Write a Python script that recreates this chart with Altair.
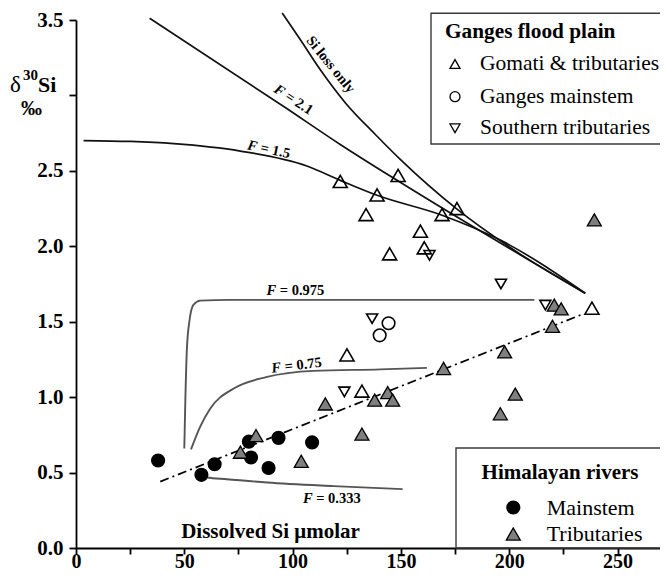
import altair as alt
import pandas as pd

# ---------------- data ----------------
# Ganges flood plain
gomati_x = [122.0, 148.7, 139.0, 133.9, 169.0, 175.9, 159.0, 160.8, 144.8, 125.1, 132.0, 238.2]
gomati_y = [2.43, 2.47, 2.34, 2.21, 2.21, 2.25, 2.10, 1.99, 1.95, 1.28, 1.04, 1.59]
gmain_x = [144.3, 140.2]
gmain_y = [1.49, 1.41]
south_x = [163.2, 196.2, 216.7, 136.7, 123.9]
south_y = [1.94, 1.75, 1.61, 1.52, 1.035]
# Himalayan rivers
hmain_x = [37.9, 57.9, 64.0, 80.8, 88.9, 79.8, 93.5, 109.0]
hmain_y = [0.58, 0.485, 0.555, 0.60, 0.53, 0.705, 0.73, 0.70]
htrib_x = [75.9, 83.1, 104.0, 115.1, 132.0, 137.9, 143.9, 146.2, 169.7, 197.9,
           202.8, 195.9, 220.0, 220.8, 224.0, 239.3]
htrib_y = [0.635, 0.745, 0.575, 0.955, 0.755, 0.98, 1.03, 0.98, 1.19, 1.30,
           1.02, 0.89, 1.47, 1.61, 1.585, 2.175]

g_title = "Ganges flood plain"
g_names = ["Gomati & tributaries", "Ganges mainstem", "Southern tributaries"]
h_title = "Himalayan rivers"
h_names = ["Mainstem", "Tributaries"]

siloss_x = [95.2, 103.6, 112.8, 124.3, 138.2, 149.7, 175.9, 205.1, 235.1]
siloss_y = [3.547, 3.369, 3.170, 2.952, 2.741, 2.576, 2.246, 1.948, 1.689]
f21_x = [34.0, 96.6, 122.0, 149.7, 235.1]
f21_y = [3.512, 2.92, 2.675, 2.424, 1.689]
f15_x = [3.5, 25.1, 45.1, 75.9, 106.6, 122.0, 139.0, 169.0, 195.9, 235.1]
f15_y = [2.701, 2.695, 2.680, 2.631, 2.532, 2.437, 2.338, 2.206, 2.041, 1.689]
f975_x = [50.0, 50.5, 51.2, 52.4, 54.2, 57.4, 71.2, 211.6]
f975_y = [0.660, 0.991, 1.321, 1.508, 1.612, 1.640, 1.645, 1.645]
f075_x = [53.1, 57.4, 62.0, 72.8, 88.2, 109.7, 140.5, 162.0]
f075_y = [0.654, 0.806, 0.925, 1.057, 1.134, 1.174, 1.184, 1.194]
f0333_x = [58.2, 60.5, 69.7, 88.2, 118.9, 150.8]
f0333_y = [0.484, 0.467, 0.456, 0.434, 0.410, 0.390]
trend_x = [38.9, 234.3]
trend_y = [0.44, 1.552]

# curve labels
lab_rest = ["= 2.1", "= 1.5", "= 0.975", "= 0.75", "= 0.333"]
lab_x = [96.6, 84.6, 96.8, 97.4, 113.6]
lab_y = [3.005, 2.653, 1.706, 1.20, 0.324]
lab_angle = [33, 12, 0, 353, 0]
lab_shift = [-12.0, -12.0, -19.2, -15.6, -19.2]

# ---------------- layout ----------------
PXU = 2.166
W = 584
H = 528
SERIF = "Liberation Serif"

xs = alt.Scale(domain=[0, W / PXU], nice=False, zero=False)
ys = alt.Scale(domain=[0, 3.5], nice=False)

x_axis = alt.Axis(
    values=list(range(0, 275, 25)),
    labelExpr="datum.value % 50 == 0 ? datum.label : ''",
    format="d",
    title="Dissolved Si \u03bcmolar",
    titleX=194, titleY=-11, titleAlign="center", titleBaseline="alphabetic",
    titleAnchor="start",
    titleFont=SERIF, titleFontSize=21, titleFontWeight="bold", titleColor="black",
    labelFont=SERIF, labelFontSize=20, labelFontWeight="bold", labelColor="black",
    labelBaseline="alphabetic", labelPadding=13.5,
    tickSize=6, tickWidth=1.8, tickColor="black",
    domainColor="black", domainWidth=1.8, grid=False, labelFlush=False,
)
y_axis = alt.Axis(
    values=[i * 0.25 for i in range(15)],
    labelExpr="(round(datum.value*4) % 2 == 0 && abs(datum.value-3) > 0.01) ? format(datum.value, '.1f') : ''",
    title=None,
    labelFont=SERIF, labelFontSize=21, labelFontWeight="bold", labelColor="black",
    labelPadding=6, tickSize=7, tickWidth=1.8, tickColor="black",
    domainColor="black", domainWidth=1.8, grid=False, labelFlush=False,
)

pts_g = pd.DataFrame({
    "x": gomati_x + gmain_x + south_x,
    "y": gomati_y + gmain_y + south_y,
    "Ganges": [g_names[0]] * len(gomati_x) + [g_names[1]] * len(gmain_x) + [g_names[2]] * len(south_x),
})
pts_h = pd.DataFrame({
    "x": hmain_x + htrib_x,
    "y": hmain_y + htrib_y,
    "Himalaya": [h_names[0]] * len(hmain_x) + [h_names[1]] * len(htrib_x),
})


def curve_df(name, xv, yv):
    return pd.DataFrame({"x": xv, "y": yv, "curve": name, "i": list(range(len(xv)))})


black_curves = pd.concat([
    curve_df("siloss", siloss_x, siloss_y),
    curve_df("f21", f21_x, f21_y),
    curve_df("f15", f15_x, f15_y),
])
gray_curves = pd.concat([
    curve_df("f975", f975_x, f975_y),
    curve_df("f075", f075_x, f075_y),
    curve_df("f0333", f0333_x, f0333_y),
])
trend = curve_df("trend", trend_x, trend_y)

one = pd.DataFrame({"a": [0]})

lines_black = alt.Chart(black_curves).mark_line(color="#111111", strokeWidth=1.7, interpolate="monotone").encode(
    x=alt.X("x:Q", scale=xs, axis=x_axis),
    y=alt.Y("y:Q", scale=ys, axis=y_axis),
    detail="curve:N", order="i:Q",
)
lines_gray = alt.Chart(gray_curves).mark_line(color="#555555", strokeWidth=1.9, interpolate="monotone").encode(
    x=alt.X("x:Q", scale=xs), y=alt.Y("y:Q", scale=ys), detail="curve:N", order="i:Q",
)
trend_line = alt.Chart(trend).mark_line(color="black", strokeWidth=1.7, strokeDash=[9, 4, 2, 4]).encode(
    x=alt.X("x:Q", scale=xs), y=alt.Y("y:Q", scale=ys), order="i:Q",
)

h_layer = alt.Chart(pts_h).mark_point(filled=True, stroke="black", strokeWidth=1.3, opacity=1).encode(
    x=alt.X("x:Q", scale=xs), y=alt.Y("y:Q", scale=ys),
    shape=alt.Shape("Himalaya:N", scale=alt.Scale(domain=h_names, range=["circle", "triangle-up"]), legend=None),
    fill=alt.Fill("Himalaya:N", scale=alt.Scale(domain=h_names, range=["black", "#7f7f7f"]), legend=None),
    size=alt.Size("Himalaya:N", scale=alt.Scale(domain=h_names, range=[165, 196]), legend=None),
)

g_layer = alt.Chart(pts_g).mark_point(filled=False, stroke="black", strokeWidth=1.6, opacity=1).encode(
    x=alt.X("x:Q", scale=xs), y=alt.Y("y:Q", scale=ys),
    shape=alt.Shape("Ganges:N", scale=alt.Scale(domain=g_names, range=["triangle-up", "circle", "triangle-down"]),
                    legend=None),
    size=alt.Size("Ganges:N", scale=alt.Scale(domain=g_names, range=[196, 121, 196]), legend=None),
)

# ---------------- legend boxes (drawn as annotations) ----------------
deco = []
for bx0, bx1, by0, by1 in [(355, 720, -6.7, 124), (380, 720, 428, H)]:
    deco.append(alt.Chart(one).mark_rect(fill="white", fillOpacity=0, stroke="#3a3a3a", strokeWidth=1.4).encode(
        x=alt.value(bx0), x2=alt.value(bx1), y=alt.value(by0), y2=alt.value(by1)))

deco.append(alt.Chart(one).mark_text(text=g_title, font=SERIF, fontSize=21.3, fontWeight="bold", align="left",
                                     baseline="middle", color="black").encode(x=alt.value(369), y=alt.value(11.7)))
g_shapes = ["triangle-up", "circle", "triangle-down"]
for name, shp, ry in zip(g_names, g_shapes, [44, 76.7, 108.3]):
    deco.append(alt.Chart(one).mark_point(shape=shp, filled=False, stroke="black", strokeWidth=1.3, size=100,
                                          opacity=1).encode(x=alt.value(379), y=alt.value(ry)))
    deco.append(alt.Chart(one).mark_text(text=name, font=SERIF, fontSize=21.5, align="left", baseline="middle",
                                         color="black").encode(x=alt.value(404), y=alt.value(ry)))

deco.append(alt.Chart(one).mark_text(text=h_title, font=SERIF, fontSize=21, fontWeight="bold", align="center",
                                     baseline="middle", color="black").encode(x=alt.value(484), y=alt.value(452.5)))
h_shapes = ["circle", "triangle-up"]
h_fill = ["black", "#7f7f7f"]
h_size = [165, 196]
for name, shp, fc, sz, ry in zip(h_names, h_shapes, h_fill, h_size, [487.5, 514]):
    deco.append(alt.Chart(one).mark_point(shape=shp, filled=True, fill=fc, stroke="black", strokeWidth=1.3, size=sz,
                                          opacity=1).encode(x=alt.value(437.3), y=alt.value(ry)))
    deco.append(alt.Chart(one).mark_text(text=name, font=SERIF, fontSize=22, align="left", baseline="middle",
                                         color="black").encode(x=alt.value(470.7), y=alt.value(ry)))

# ---------------- curve labels ----------------
texts = []
for rest, lx, ly, ang, sh in zip(lab_rest, lab_x, lab_y, lab_angle, lab_shift):
    texts.append(alt.Chart(one).mark_text(
        text="F", font=SERIF, fontSize=14.5, fontWeight="bold", fontStyle="italic",
        angle=ang, align="right", baseline="middle", dx=sh + 9.7, color="black"
    ).encode(x=alt.datum(lx, scale=xs), y=alt.datum(ly, scale=ys)))
    texts.append(alt.Chart(one).mark_text(
        text=rest, font=SERIF, fontSize=14.5, fontWeight="bold",
        angle=ang, align="left", baseline="middle", dx=sh + 9.7 + 3.6, color="black"
    ).encode(x=alt.datum(lx, scale=xs), y=alt.datum(ly, scale=ys)))

texts.append(alt.Chart(one).mark_text(
    text="Si loss only", font=SERIF, fontSize=14.5, fontWeight="bold",
    angle=51, align="center", baseline="middle", color="black"
).encode(x=alt.datum(117.4, scale=xs), y=alt.datum(3.203, scale=ys)))

# y-axis title pieces
ytitle = [
    alt.Chart(one).mark_text(text="\u03b4", font=SERIF, fontSize=23, align="left", baseline="alphabetic",
                             color="black").encode(x=alt.value(-66), y=alt.value(72)),
    alt.Chart(one).mark_text(text="30", font=SERIF, fontSize=15, fontWeight="bold", align="left",
                             baseline="alphabetic", color="black").encode(x=alt.value(-53), y=alt.value(60)),
    alt.Chart(one).mark_text(text="Si", font=SERIF, fontSize=22, fontWeight="bold", align="left",
                             baseline="alphabetic", color="black").encode(x=alt.value(-38), y=alt.value(72)),
    alt.Chart(one).mark_text(text="\u2030", font=SERIF, fontSize=21, fontWeight="bold", align="left",
                             baseline="alphabetic", color="black").encode(x=alt.value(-55), y=alt.value(95)),
]

chart = alt.layer(
    lines_black, lines_gray, trend_line, h_layer, g_layer, *deco, *texts, *ytitle
).resolve_scale(
    shape="independent", fill="independent", size="independent"
).properties(
    width=W, height=H,
    autosize=alt.AutoSizeParams(type="none"),
    padding={"left": 68, "top": 12, "right": 0, "bottom": 24},
    background="white",
).configure_view(stroke=None)

chart.save("out.html", embed_options={"renderer": "svg", "actions": False})
